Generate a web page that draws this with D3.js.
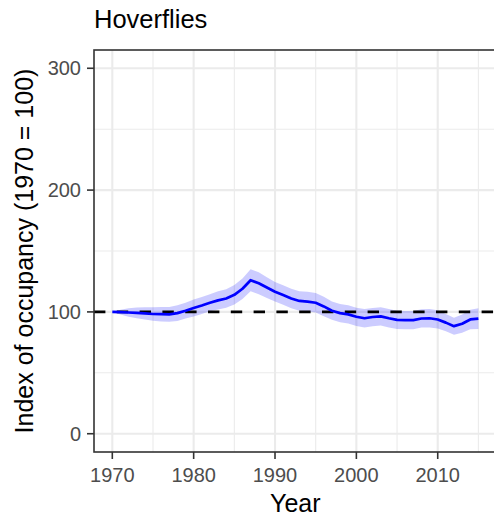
<!DOCTYPE html>
<html>
<head>
<meta charset="utf-8">
<script src="https://cdn.jsdelivr.net/npm/d3@7"></script>
<style>
  body { margin: 0; background: #fff; }
  text { font-family: "Liberation Sans", Arial, sans-serif; }
</style>
</head>
<body>
<div id="chart"></div>
<script>
// data
const years = d3.range(1970, 2016);
const index = [100, 99.8, 99.5, 99.2, 98.8, 98.3, 98.1, 98.0, 99.0, 101.0,
  103.2, 105.2, 107.5, 109.5, 111.0, 114.0, 119.0, 126.0, 123.5, 120.0,
  116.5, 113.8, 111.0, 109.0, 108.5, 107.5, 104.5, 101.0, 99.0, 98.0,
  96.0, 94.8, 95.8, 96.3, 94.8, 93.5, 93.3, 93.2, 94.6, 94.8,
  93.8, 91.2, 88.3, 90.3, 93.8, 94.5];
const upper = [100, 101.8, 103.0, 103.7, 103.8, 103.8, 104.1, 104.0, 105.5, 107.5,
  110.2, 112.2, 114.5, 117.0, 118.5, 122.0, 127.5, 135.0, 132.5, 128.5,
  124.5, 121.8, 119.0, 117.0, 116.5, 115.5, 112.5, 108.5, 106.5, 105.5,
  103.5, 102.3, 103.3, 103.8, 102.3, 101.0, 100.8, 100.7, 102.1, 102.3,
  101.3, 98.2, 95.3, 97.8, 101.8, 103.0];
const lower = [100, 97.8, 96.0, 94.7, 93.8, 92.8, 92.1, 92.0, 92.5, 94.5,
  96.2, 98.2, 100.5, 102.0, 103.5, 106.0, 110.5, 117.0, 114.5, 111.5,
  108.5, 105.8, 103.0, 101.0, 100.5, 99.5, 96.5, 93.5, 91.5, 90.5,
  88.5, 87.3, 88.3, 88.8, 87.3, 86.0, 85.8, 85.7, 87.1, 87.3,
  86.3, 84.2, 81.3, 82.8, 85.8, 86.0];
const xTicks = [1970, 1980, 1990, 2000, 2010];
const xMinor = [1975, 1985, 1995, 2005, 2015];
const yTicks = [0, 100, 200, 300];
const yMinor = [50, 150, 250];
const baseline = 100;

const width = 494, height = 519;
const panel = { left: 94, top: 50, right: 496.7, bottom: 452 };

const svg = d3.select("#chart").append("svg")
  .attr("width", width)
  .attr("height", height);

const x = d3.scaleLinear().domain([1967.75, 2017.25]).range([panel.left, panel.right]);
const y = d3.scaleLinear().domain([-15, 315]).range([panel.bottom, panel.top]);

svg.append("clipPath").attr("id", "clip")
  .append("rect")
  .attr("x", panel.left).attr("y", panel.top)
  .attr("width", panel.right - panel.left)
  .attr("height", panel.bottom - panel.top);

const g = svg.append("g").attr("clip-path", "url(#clip)");

// grid lines
g.selectAll(".xminor").data(xMinor).enter().append("line")
  .attr("x1", d => x(d)).attr("x2", d => x(d))
  .attr("y1", panel.top).attr("y2", panel.bottom)
  .attr("stroke", "#ebebeb").attr("stroke-width", 1.1);
g.selectAll(".yminor").data(yMinor).enter().append("line")
  .attr("y1", d => y(d)).attr("y2", d => y(d))
  .attr("x1", panel.left).attr("x2", panel.right)
  .attr("stroke", "#ebebeb").attr("stroke-width", 1.1);
g.selectAll(".xmajor").data(xTicks).enter().append("line")
  .attr("x1", d => x(d)).attr("x2", d => x(d))
  .attr("y1", panel.top).attr("y2", panel.bottom)
  .attr("stroke", "#ebebeb").attr("stroke-width", 2.1);
g.selectAll(".ymajor").data(yTicks).enter().append("line")
  .attr("y1", d => y(d)).attr("y2", d => y(d))
  .attr("x1", panel.left).attr("x2", panel.right)
  .attr("stroke", "#ebebeb").attr("stroke-width", 2.1);

// ribbon
const area = d3.area()
  .x((d, i) => x(years[i]))
  .y0((d, i) => y(lower[i]))
  .y1((d, i) => y(upper[i]));
g.append("path")
  .datum(index)
  .attr("d", area)
  .attr("fill", "#0000ff")
  .attr("fill-opacity", 0.2);

// reference line at 100
g.append("line")
  .attr("x1", panel.left).attr("x2", panel.right)
  .attr("y1", y(baseline)).attr("y2", y(baseline))
  .attr("stroke", "#000")
  .attr("stroke-width", 2.8)
  .attr("stroke-dasharray", "11.4,11.4");

// index line
const line = d3.line()
  .x((d, i) => x(years[i]))
  .y(d => y(d));
g.append("path")
  .datum(index)
  .attr("d", line)
  .attr("fill", "none")
  .attr("stroke", "#0000ff")
  .attr("stroke-width", 2.7)
  .attr("stroke-linejoin", "round");

// panel border
svg.append("rect")
  .attr("x", panel.left).attr("y", panel.top)
  .attr("width", panel.right - panel.left)
  .attr("height", panel.bottom - panel.top)
  .attr("fill", "none")
  .attr("stroke", "#333333")
  .attr("stroke-width", 1.6);

// x axis ticks and labels
svg.selectAll(".xtick").data(xTicks).enter().append("line")
  .attr("x1", d => x(d)).attr("x2", d => x(d))
  .attr("y1", panel.bottom).attr("y2", panel.bottom + 7)
  .attr("stroke", "#333333").attr("stroke-width", 1.6);
svg.selectAll(".xlab").data(xTicks).enter().append("text")
  .attr("x", d => x(d))
  .attr("y", 481.5)
  .attr("text-anchor", "middle")
  .style("font-size", "20px")
  .attr("fill", "#4d4d4d")
  .text(d => d);

// y axis ticks and labels
svg.selectAll(".ytick").data(yTicks).enter().append("line")
  .attr("y1", d => y(d)).attr("y2", d => y(d))
  .attr("x1", panel.left - 7).attr("x2", panel.left)
  .attr("stroke", "#333333").attr("stroke-width", 1.6);
svg.selectAll(".ylab").data(yTicks).enter().append("text")
  .attr("x", panel.left - 13)
  .attr("y", d => y(d))
  .attr("dy", "0.36em")
  .attr("text-anchor", "end")
  .style("font-size", "20px")
  .attr("fill", "#4d4d4d")
  .text(d => d);

// titles
svg.append("text")
  .attr("x", (panel.left + panel.right) / 2)
  .attr("y", 511.5)
  .attr("text-anchor", "middle")
  .style("font-size", "25px")
  .text("Year");

svg.append("text")
  .attr("transform", `translate(33,${(panel.top + panel.bottom) / 2}) rotate(-90)`)
  .attr("text-anchor", "middle")
  .style("font-size", "25px")
  .text("Index of occupancy (1970 = 100)");

svg.append("text")
  .attr("x", panel.left)
  .attr("y", 28)
  .style("font-size", "25.5px")
  .text("Hoverflies");
</script>
</body>
</html>
